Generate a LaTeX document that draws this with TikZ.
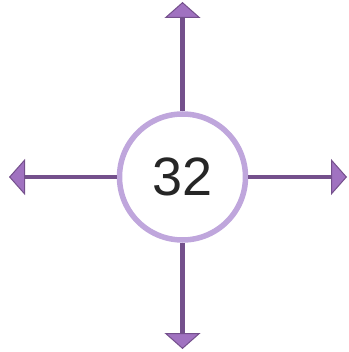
\documentclass[tikz,border=0pt]{standalone}
\usepackage{fontspec}
\setmainfont{Liberation Sans}
\usetikzlibrary{arrows.meta}
\definecolor{ringc}{HTML}{BFA6DC}
\definecolor{shaftc}{HTML}{74508C}
\definecolor{headc}{HTML}{A072C0}
\tikzset{
  ringnode/.style={circle, draw=ringc, line width=5.5pt, minimum size=126pt, inner sep=0pt, font=\fontsize{54}{54}\selectfont, text=black!85},
  shaft/.style={draw=shaftc, line width=4.5pt, -{Triangle[length=16pt, width=36pt, fill=headc, line width=1pt]}}
}
\begin{document}
\begin{tikzpicture}[x=1pt,y=-1pt]
\useasboundingbox (0,0) rectangle (348,352);
\node[ringnode] (c) at (182.5,177) {32};
\coordinate (tt) at (182.5,2);
\coordinate (tb) at (182.5,349);
\coordinate (tl) at (9,175);
\coordinate (tr) at (347,178);
\draw[shaft] (c.north) -- (tt);
\draw[shaft] (c.south) -- (tb);
\draw[shaft] (c.west) -- (c.west -| tl);
\draw[shaft] (c.east) -- (c.east -| tr);
\end{tikzpicture}
\end{document}
